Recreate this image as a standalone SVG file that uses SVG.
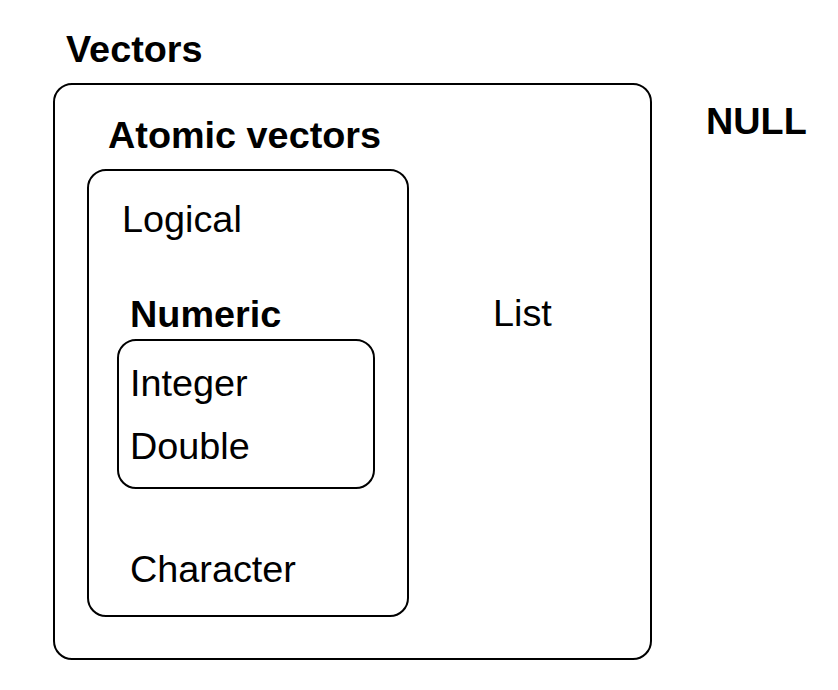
<svg xmlns="http://www.w3.org/2000/svg" width="838" height="690" viewBox="0 0 838 690">
<style>
.box{fill:none;stroke:#000;stroke-width:2}
.b{font-family:"Liberation Sans",Arial,Helvetica,sans-serif;font-weight:bold;font-size:37.8px;fill:#000}
.r{font-family:"Liberation Sans",Arial,Helvetica,sans-serif;font-size:37.8px;fill:#000}
</style>
<rect width="838" height="690" fill="#fff"/>
<g id="vectors">
<text class="b" x="66" y="62">Vectors</text>
<rect class="box" x="54" y="84" width="597" height="575" rx="18"/>
</g>
<g id="null"><text class="b" x="706" y="134">NULL</text></g>
<g id="atomic">
<text class="b" x="108" y="148">Atomic vectors</text>
<rect class="box" x="88" y="170" width="320" height="446" rx="18"/>
</g>
<g id="logical"><text class="r" x="122" y="232">Logical</text></g>
<g id="numeric">
<text class="b" x="130" y="327">Numeric</text>
<rect class="box" x="118" y="340" width="256" height="148" rx="18"/>
</g>
<g id="integer"><text class="r" x="130" y="396">Integer</text></g>
<g id="double"><text class="r" x="130" y="459">Double</text></g>
<g id="character"><text class="r" x="130" y="582">Character</text></g>
<g id="list"><text class="r" x="493" y="326">List</text></g>
<g id="connectors"/>
</svg>
